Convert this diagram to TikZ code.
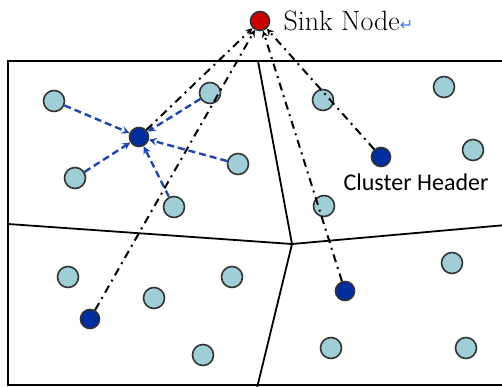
\documentclass[tikz,border=0pt]{standalone}
\usepackage{fontspec}
\newfontfamily\labelfont{Carlito}
\newfontfamily\symfont{DejaVu Sans}
\definecolor{memberfill}{RGB}{160,206,214}
\definecolor{headerfill}{RGB}{0,45,160}
\definecolor{sinkfill}{RGB}{200,0,0}
\definecolor{linkblue}{RGB}{30,70,170}
\definecolor{markblue}{RGB}{70,120,230}
\tikzset{
  member/.style={circle,draw=black!80,line width=1.6pt,fill=memberfill,minimum size=21pt,inner sep=0pt},
  header/.style={member,fill=headerfill,minimum size=19pt},
  sinknode/.style={member,fill=sinkfill,minimum size=19pt},
  tocluster/.style={draw=linkblue,line width=2.4pt,dash pattern=on 7pt off 4pt,-stealth},
  tosink/.style={draw=black,line width=2pt,dash pattern=on 8pt off 5pt on 2pt off 5pt,-stealth},
}
\begin{document}
\begin{tikzpicture}[x=1pt,y=-1pt]
  \useasboundingbox (0,0) rectangle (502,387);
  \draw[line width=2.2pt] (506,61) -- (8,61) -- (8,385) -- (506,385);
  \coordinate (mid) at (292,244);
  \draw[line width=1.8pt] (258,61) -- (mid) -- (257,388);
  \draw[line width=1.8pt] (8,224) -- (mid) -- (506,225);

  \node[sinknode] (sink) at (260,21) {};
  \node[anchor=west,font=\fontsize{28}{32}\selectfont] (sinklabel) at (280,21)
    {Sink Node\textcolor{markblue}{\symfont\fontsize{16}{16}\selectfont ↵}};

  \node[member] (a1) at (54,101) {};
  \node[member] (a2) at (210,93) {};
  \node[member] (a3) at (75,178) {};
  \node[member] (a4) at (238,164) {};
  \node[member] (a5) at (174,207) {};
  \node[header] (ha) at (139,137) {};

  \node[member] (b1) at (323,100) {};
  \node[member] (b2) at (444,87) {};
  \node[member] (b3) at (473,150) {};
  \node[member] (b4) at (324,206) {};
  \node[header] (hb) at (381,157) {};
  \node[font=\labelfont\fontsize{24}{28}\selectfont] (hblabel) at (416,182)
    {Cluster Header};

  \node[member] (c1) at (68,277) {};
  \node[member] (c2) at (154,298) {};
  \node[member] (c3) at (232,277) {};
  \node[member] (c4) at (203,355) {};
  \node[header] (hc) at (90,319) {};

  \node[member] (d1) at (452,263) {};
  \node[member] (d2) at (331,348) {};
  \node[member] (d3) at (466,348) {};
  \node[header] (hd) at (345,291) {};

  \foreach \m in {a1,a2,a3,a4,a5}
    \draw[tocluster] (\m) -- (ha);
  \foreach \h in {ha,hb,hc,hd}
    \draw[tosink] (\h) -- (sink);
\end{tikzpicture}
\end{document}
